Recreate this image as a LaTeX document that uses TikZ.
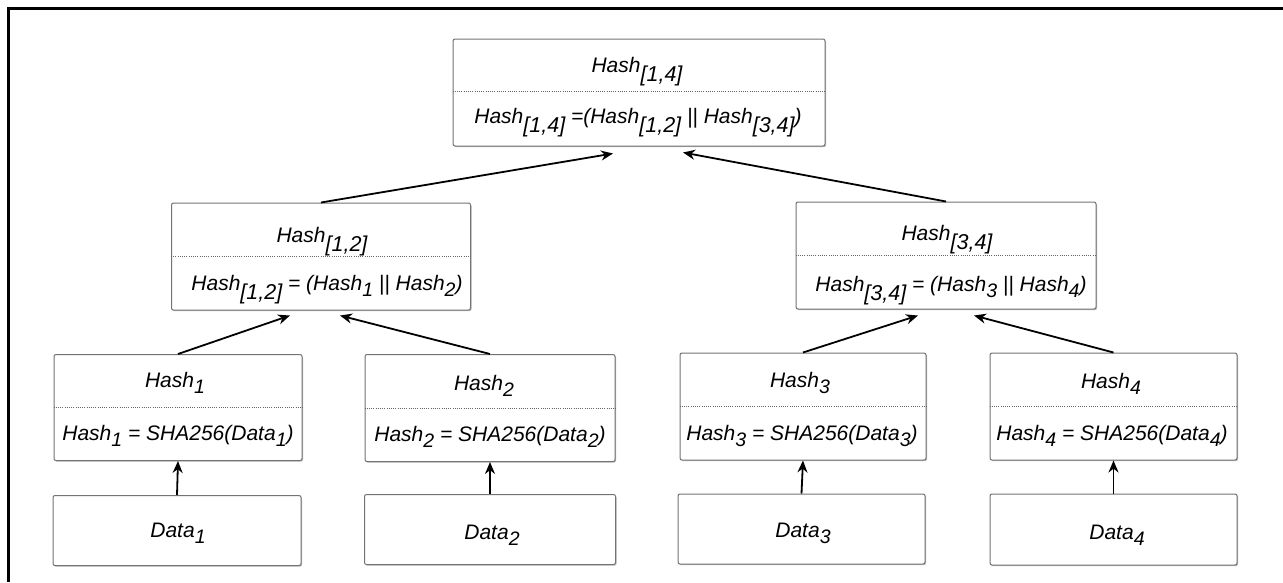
\documentclass[tikz,border=0pt]{standalone}
\usepackage{fontspec}
\setmainfont{Liberation Sans}
\usetikzlibrary{arrows.meta,shadows}

% lowered subscripts: plain indices and bracketed ranges
\newcommand\subsc[1]{\raisebox{-0.3em}{\fontsize{19.5}{19.5}\selectfont #1}}
\newcommand\subbr[1]{\raisebox{-0.45em}{\fontsize{21.5}{21.5}\selectfont #1}}

\begin{document}
\begin{tikzpicture}[x=1pt,y=-1pt,
  box/.style={draw=black!55, line width=1pt, rounded corners=2pt, fill=white,
    inner sep=0pt,
    drop shadow={shadow xshift=1pt,shadow yshift=-1.2pt,fill=black!45,opacity=0.6}},
  lbl/.style={anchor=base, inner sep=0pt, font=\fontsize{21}{21}\selectfont\itshape},
  sep/.style={black!60, line width=0.8pt, dash pattern=on 1pt off 1.2pt},
  arr/.style={line width=1.8pt, -{Stealth[length=12pt,width=10pt]}},
  frame/.style={line width=2.5pt}
]
\useasboundingbox (0,0) rectangle (1283,582);

% outer frame
\draw[frame] (8.7,582) -- (8.7,8.7) -- (1283,8.7);

% root
\node[box, minimum width=372pt, minimum height=107pt] (root) at (639,92.5) {};
\draw[sep] ([yshift=1.5pt]root.west) -- ([yshift=1.5pt]root.east);
\node[lbl] (rootT) at (637,72) {Hash\subbr{[1,4]}};
\node[lbl] (rootF) at (638,123) {Hash\subbr{[1,4]} =(Hash\subbr{[1,2]} || Hash\subbr{[3,4]})};

% second level
\node[box, minimum width=299pt, minimum height=107pt] (h12) at (321,256.5) {};
\draw[sep] ([yshift=0.5pt]h12.west) -- ([yshift=0.5pt]h12.east);
\node[lbl] (h12T) at (322,242) {Hash\subbr{[1,2]}};
\node[lbl] (h12F) at (327,290) {Hash\subbr{[1,2]} = (Hash\subsc{1} || Hash\subsc{2})};

\node[box, minimum width=300pt, minimum height=107pt] (h34) at (946,255.5) {};
\draw[sep] ([yshift=0.5pt]h34.west) -- ([yshift=0.5pt]h34.east);
\node[lbl] (h34T) at (947,240) {Hash\subbr{[3,4]}};
\node[lbl] (h34F) at (951,291.5) {Hash\subbr{[3,4]} = (Hash\subsc{3} || Hash\subsc{4})};

% leaf hashes
\node[box, minimum width=248pt, minimum height=106pt] (h1) at (178,407.5) {};
\draw[sep] (h1.west) -- (h1.east);
\node[lbl] (h1T) at (175,387) {Hash\subsc{1}};
\node[lbl] (h1F) at (178,440) {Hash\subsc{1} = SHA256(Data\subsc{1})};

\node[box, minimum width=250pt, minimum height=107pt] (h2) at (490,408) {};
\draw[sep] ([yshift=-0.5pt]h2.west) -- ([yshift=-0.5pt]h2.east);
\node[lbl] (h2T) at (484,390) {Hash\subsc{2}};
\node[lbl] (h2F) at (490,441) {Hash\subsc{2} = SHA256(Data\subsc{2})};

\node[box, minimum width=246pt, minimum height=107pt] (h3) at (803,406.5) {};
\draw[sep] ([yshift=0.5pt]h3.west) -- ([yshift=0.5pt]h3.east);
\node[lbl] (h3T) at (800,387) {Hash\subsc{3}};
\node[lbl] (h3F) at (802,440) {Hash\subsc{3} = SHA256(Data\subsc{3})};

\node[box, minimum width=247pt, minimum height=107pt] (h4) at (1113.5,406.5) {};
\draw[sep] ([yshift=0.5pt]h4.west) -- ([yshift=0.5pt]h4.east);
\node[lbl] (h4T) at (1111,388) {Hash\subsc{4}};
\node[lbl] (h4F) at (1112,440) {Hash\subsc{4} = SHA256(Data\subsc{4})};

% data blocks
\node[box, minimum width=248pt, minimum height=70pt] (d1) at (177,530.5) {};
\node[lbl] (d1T) at (178,537) {Data\subsc{1}};
\node[box, minimum width=251pt, minimum height=70pt] (d2) at (490,529.5) {};
\node[lbl] (d2T) at (492,539) {Data\subsc{2}};
\node[box, minimum width=247pt, minimum height=70pt] (d3) at (801.5,529) {};
\node[lbl] (d3T) at (803,537) {Data\subsc{3}};
\node[box, minimum width=247pt, minimum height=71pt] (d4) at (1113.5,529.5) {};
\node[lbl] (d4T) at (1117,539) {Data\subsc{4}};

% connectors
\draw[arr] (h12.north) -- ([xshift=-26pt,yshift=-7pt]root.south);
\draw[arr] (h34.north) -- ([xshift=44pt,yshift=-6pt]root.south);
\draw[arr] (h1.north) -- ([xshift=-31pt,yshift=-5pt]h12.south);
\draw[arr] (h2.north) -- ([xshift=19pt,yshift=-5pt]h12.south);
\draw[arr] (h3.north) -- ([xshift=-28pt,yshift=-6pt]h34.south);
\draw[arr] (h4.north) -- ([xshift=28pt,yshift=-6pt]h34.south);
\draw[arr] (d1.north) -- (h1.south);
\draw[arr] (d2.north) -- (h2.south);
\draw[arr] (d3.north) -- (h3.south);
\draw[arr] (d4.north) -- (h4.south);
\end{tikzpicture}
\end{document}
